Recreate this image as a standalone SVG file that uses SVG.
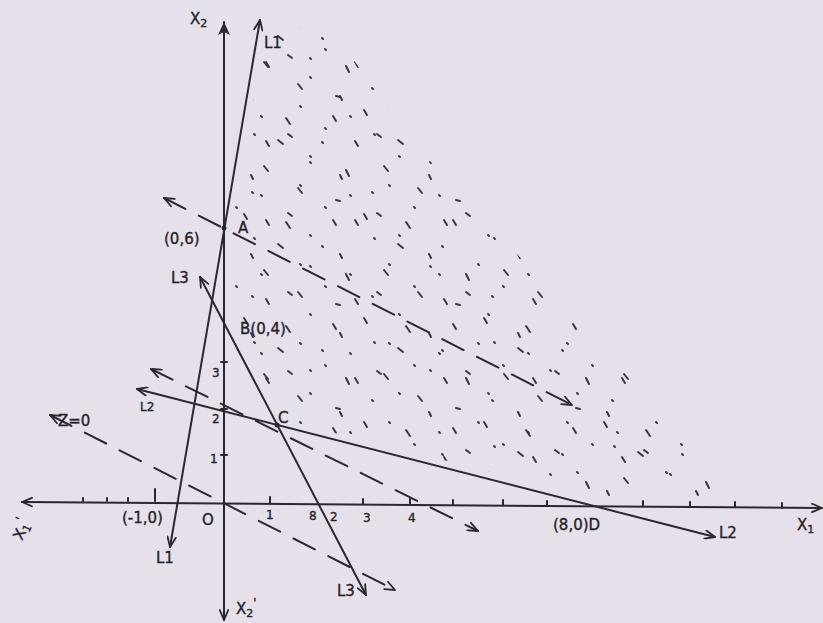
<svg xmlns="http://www.w3.org/2000/svg" width="823" height="623" viewBox="0 0 823 623">
  <defs>
    <style>
      .ln { stroke: #2b2730; stroke-width: 2; fill: none; stroke-linecap: round; }
      .dash { stroke: #2b2730; stroke-width: 2; fill: none; stroke-dasharray: 24 15; stroke-linecap: round; }
      .tick { stroke: #2b2730; stroke-width: 2; fill: none; stroke-linecap: round; }
      .lbl { font-family: "DejaVu Sans", "Liberation Sans", sans-serif; font-size: 15px; fill: #241f29; stroke: #241f29; stroke-width: 0.35; }
      .sm { font-size: 12px; }
    </style>
    <marker id="open" viewBox="0 0 12 10" refX="11" refY="5" markerWidth="12" markerHeight="10" markerUnits="userSpaceOnUse" orient="auto-start-reverse">
      <path d="M1,0.8 L11,5 L1,9.2" fill="none" stroke="#2b2730" stroke-width="1.8" stroke-dasharray="none" stroke-linecap="round" stroke-linejoin="round"/>
    </marker>
    <marker id="solid" viewBox="0 0 14 12" refX="13" refY="6" markerWidth="14" markerHeight="12" markerUnits="userSpaceOnUse" orient="auto-start-reverse">
      <path d="M0,0 L13,6 L0,12 L3,6 Z" fill="#2b2730"/>
    </marker>
    <pattern id="hatch1" x="0" y="0" width="120" height="104" patternUnits="userSpaceOnUse">
      <path d="M4 6 l3 5 M46 14 l4 6 M93 12 l3 5 M38 36 l5 4 M82 38 l1 1 M14 30 l1 1 M24 62 l4 5 M70 58 l1 1 M106 66 l3 6 M12 88 l1 1 M58 84 l4 5 M96 96 l4 1" stroke="#3a3540" stroke-width="2" stroke-linecap="round" fill="none"/>
    </pattern>
    <pattern id="hatch2" x="13" y="7" width="89" height="79" patternUnits="userSpaceOnUse">
      <path d="M20 20 l1 1 M60 10 l2 4 M8 48 l4 3 M45 42 l1 1 M75 55 l3 5 M30 70 l1 1 M70 30 l1 1" stroke="#3a3540" stroke-width="2" stroke-linecap="round" fill="none"/>
    </pattern>
  </defs>

  <rect width="823" height="623" fill="#e6e0ea"/>

  <g id="feasible-region">
    <polygon points="266,30 232,225 232,325 282,420 597,498 718,498 690,440 560,300 420,150 330,28" fill="url(#hatch1)"/>
    <polygon points="266,30 232,225 232,325 282,420 597,498 718,498 690,440 560,300 420,150 330,28" fill="url(#hatch2)"/>
  </g>

  <g id="connectors">
    <path id="x1-axis" class="ln" d="M822,508 L22,502" marker-start="url(#open)" marker-end="url(#open)"/>
    <path id="x2-axis-up" class="ln" d="M224,300 L224,22" marker-end="url(#solid)"/>
    <path id="x2-axis-down" class="ln" d="M224,300 L224,620" marker-end="url(#open)"/>
    <path id="L1" class="ln" d="M170,547 L260,20" marker-start="url(#open)" marker-end="url(#open)"/>
    <path id="L2" class="ln" d="M137,389 L715,537" marker-start="url(#open)" marker-end="url(#open)"/>
    <path id="L3" class="ln" d="M200,277 L366,595" marker-start="url(#open)" marker-end="url(#open)"/>
    <path id="Z0" class="dash" d="M50,415 L395,590" marker-start="url(#open)" marker-end="url(#open)"/>
    <path id="ZC" class="dash" d="M151,369 L478,531" marker-start="url(#open)" marker-end="url(#open)"/>
    <path id="ZA" class="dash" d="M164,198 L572,405" marker-start="url(#open)" marker-end="url(#open)"/>
    <path class="tick" d="M83,501 v-3 M107,501 v-3 M128,501 v-3 M155,501 v-12 M270,503 v-6 M363,504 v-5 M410,504 v-5 M453,505 v-5 M503,505 v-5 M547,506 v-5 M643,506 v-5 M690,507 v-5 M735,507 v-5 M782,508 v-5"/>
    <path class="tick" d="M221,455 h6 M221,409 h6 M221,362 h6"/>
  </g>

  <g id="point-A"><circle cx="224" cy="228" r="2.5" fill="#2b2730"/><text class="lbl" x="238" y="233">A</text><text class="lbl" x="164" y="244">(0,6)</text></g>
  <g id="point-B"><text class="lbl" x="240" y="334">B(0,4)</text></g>
  <g id="point-C"><circle cx="277" cy="425" r="2.5" fill="#2b2730"/><text class="lbl" x="278" y="423">C</text></g>
  <g id="point-D"><text class="lbl" x="553" y="530">(8,0)D</text></g>
  <g id="origin"><text class="lbl" x="202" y="525" font-size="17">O</text><text class="lbl" x="122" y="523" font-size="13">(-1,0)</text></g>

  <g id="axis-labels">
    <text class="lbl" x="190" y="24">X<tspan font-size="11" dy="3">2</tspan></text>
    <text class="lbl" x="236" y="614">X<tspan font-size="11" dy="3">2</tspan><tspan dy="-10" font-size="12">'</tspan></text>
    <text class="lbl" x="797" y="530">X<tspan font-size="11" dy="3">1</tspan></text>
    <text class="lbl" transform="translate(22,541) rotate(-65)">X<tspan font-size="11" dy="3">1</tspan><tspan dy="-10" font-size="12">'</tspan></text>
  </g>

  <g id="scale-labels">
    <text class="lbl sm" x="266" y="519">1</text>
    <text class="lbl sm" x="309" y="520">8</text>
    <text class="lbl sm" x="330" y="521">2</text>
    <text class="lbl sm" x="363" y="522">3</text>
    <text class="lbl sm" x="408" y="522">4</text>
    <text class="lbl sm" x="210" y="463">1</text>
    <text class="lbl sm" x="212" y="423">2</text>
    <text class="lbl sm" x="212" y="377">3</text>
  </g>

  <g id="line-labels">
    <text class="lbl" x="264" y="48">L1</text>
    <text class="lbl" x="156" y="563">L1</text>
    <text class="lbl sm" x="140" y="411">L2</text>
    <text class="lbl" x="719" y="538">L2</text>
    <text class="lbl" x="171" y="283">L3</text>
    <text class="lbl" x="337" y="596">L3</text>
    <text class="lbl" x="58" y="426" font-size="14">Z=0</text>
  </g>
</svg>
